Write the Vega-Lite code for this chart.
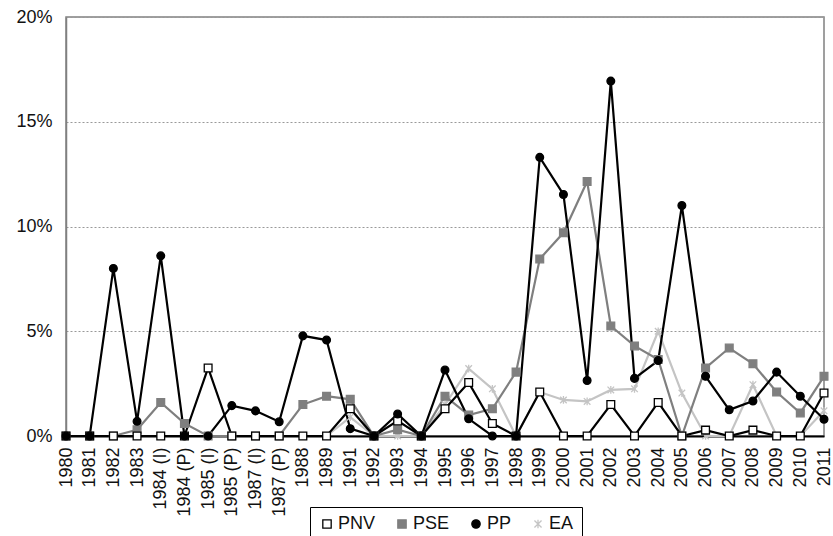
{
  "$schema": "https://vega.github.io/schema/vega-lite/v6.json",
  "width": 758,
  "height": 419,
  "autosize": {"type": "none"},
  "padding": {"left": 66, "top": 17, "right": 9, "bottom": 100},
  "background": "white",
  "config": {
    "font": "Liberation Sans",
    "view": {"stroke": "#808080", "strokeWidth": 1.5},
    "axis": {"labelColor": "#111", "labelFont": "Liberation Sans"}
  },
  "datasets": {
    "d": [
      {"cat": "1980", "EA": 0, "PSE": 0, "PNV": 0, "PP": 0},
      {"cat": "1981", "EA": 0, "PSE": 0, "PNV": 0, "PP": 0},
      {"cat": "1982", "EA": 0, "PSE": 0, "PNV": 0, "PP": 8.0},
      {"cat": "1983", "EA": 0, "PSE": 0.3, "PNV": 0, "PP": 0.7},
      {"cat": "1984 (I)", "EA": 0, "PSE": 1.6, "PNV": 0, "PP": 8.6},
      {"cat": "1984 (P)", "EA": 0, "PSE": 0.6, "PNV": 0, "PP": 0},
      {"cat": "1985 (I)", "EA": 0, "PSE": 0, "PNV": 3.25, "PP": 0},
      {"cat": "1985 (P)", "EA": 0, "PSE": 0, "PNV": 0, "PP": 1.45},
      {"cat": "1987 (I)", "EA": 0, "PSE": 0, "PNV": 0, "PP": 1.2},
      {"cat": "1987 (P)", "EA": 0, "PSE": 0, "PNV": 0, "PP": 0.68},
      {"cat": "1988", "EA": 0, "PSE": 1.5, "PNV": 0, "PP": 4.78},
      {"cat": "1989", "EA": 0, "PSE": 1.9, "PNV": 0, "PP": 4.58},
      {"cat": "1991", "EA": 0.9, "PSE": 1.75, "PNV": 1.3, "PP": 0.35},
      {"cat": "1992", "EA": 0, "PSE": 0, "PNV": 0, "PP": 0},
      {"cat": "1993", "EA": 0, "PSE": 0.3, "PNV": 0.72, "PP": 1.05},
      {"cat": "1994", "EA": 0, "PSE": 0, "PNV": 0, "PP": 0},
      {"cat": "1995", "EA": 1.5, "PSE": 1.9, "PNV": 1.3, "PP": 3.15},
      {"cat": "1996", "EA": 3.22, "PSE": 1.0, "PNV": 2.55, "PP": 0.82},
      {"cat": "1997", "EA": 2.25, "PSE": 1.3, "PNV": 0.6, "PP": 0},
      {"cat": "1998", "EA": 0, "PSE": 3.05, "PNV": 0, "PP": 0},
      {"cat": "1999", "EA": 2.1, "PSE": 8.45, "PNV": 2.1, "PP": 13.3},
      {"cat": "2000", "EA": 1.72, "PSE": 9.7, "PNV": 0, "PP": 11.53},
      {"cat": "2001", "EA": 1.65, "PSE": 12.15, "PNV": 0, "PP": 2.65},
      {"cat": "2002", "EA": 2.2, "PSE": 5.25, "PNV": 1.5, "PP": 16.94},
      {"cat": "2003", "EA": 2.25, "PSE": 4.3, "PNV": 0, "PP": 2.75},
      {"cat": "2004", "EA": 5.0, "PSE": 3.65, "PNV": 1.6, "PP": 3.6},
      {"cat": "2005", "EA": 2.05, "PSE": 0, "PNV": 0, "PP": 11.0},
      {"cat": "2006", "EA": 0, "PSE": 3.25, "PNV": 0.28, "PP": 2.85},
      {"cat": "2007", "EA": 0, "PSE": 4.2, "PNV": 0, "PP": 1.25},
      {"cat": "2008", "EA": 2.45, "PSE": 3.45, "PNV": 0.28, "PP": 1.67},
      {"cat": "2009", "EA": 0, "PSE": 2.1, "PNV": 0, "PP": 3.05},
      {"cat": "2010", "EA": 0, "PSE": 1.1, "PNV": 0, "PP": 1.9},
      {"cat": "2011", "EA": 1.2, "PSE": 2.85, "PNV": 2.05, "PP": 0.8}
    ]
  },
  "data": {"name": "d"},
  "transform": [
    {"fold": ["EA", "PSE", "PNV", "PP"], "as": ["party", "value"]}
  ],
  "encoding": {
    "x": {
      "field": "cat",
      "type": "ordinal",
      "sort": ["1980","1981","1982","1983","1984 (I)","1984 (P)","1985 (I)","1985 (P)","1987 (I)","1987 (P)","1988","1989","1991","1992","1993","1994","1995","1996","1997","1998","1999","2000","2001","2002","2003","2004","2005","2006","2007","2008","2009","2010","2011"],
      "scale": {"type": "point", "padding": 0},
      "axis": {
        "title": null,
        "labelAngle": 270,
        "labelAlign": "right",
        "labelBaseline": "middle",
        "labelFontSize": 18,
        "labelPadding": 11,
        "labelOverlap": false,
        "ticks": false,
        "domainColor": "#000",
        "domainWidth": 2,
        "grid": false
      }
    },
    "y": {
      "field": "value",
      "type": "quantitative",
      "scale": {"domain": [0, 20], "nice": false},
      "axis": {
        "title": null,
        "values": [0, 5, 10, 15, 20],
        "labelExpr": "datum.value + '%'",
        "labelFontSize": 18,
        "labelPadding": 14,
        "ticks": false,
        "domainColor": "#808080",
        "domainWidth": 1.5,
        "grid": true,
        "gridColor": "#999",
        "gridDash": [2, 2],
        "gridWidth": 1
      }
    }
  },
  "layer": [
    {
      "mark": {"type": "line", "strokeWidth": 2.2},
      "encoding": {
        "stroke": {
          "field": "party",
          "type": "nominal",
          "scale": {"domain": ["PNV", "PSE", "PP", "EA"], "range": ["#000000", "#7f7f7f", "#000000", "#c4c4c4"]},
          "legend": {
            "title": null,
            "orient": "none",
            "legendX": 244,
            "legendY": 490,
            "direction": "horizontal",
            "labelFontSize": 18,
            "labelColor": "#111",
            "labelOffset": 2,
            "columnPadding": 17,
            "symbolSize": 70,
            "symbolStrokeWidth": 1.3,
            "strokeColor": "#000",
            "padding": 8
          }
        }
      }
    },
    {
      "mark": {"type": "point", "filled": false, "size": 60, "strokeWidth": 1.3, "opacity": 1},
      "encoding": {
        "shape": {
          "field": "party",
          "type": "nominal",
          "scale": {"domain": ["PNV", "PSE", "PP", "EA"], "range": ["square", "square", "circle", "M0,-1L0,1M-0.85,-0.85L0.85,0.85M-0.85,0.85L0.85,-0.85"]},
          "legend": {"title": null}
        },
        "fill": {
          "field": "party",
          "type": "nominal",
          "scale": {"domain": ["PNV", "PSE", "PP", "EA"], "range": ["#ffffff", "#7f7f7f", "#000000", "#c4c4c4"]},
          "legend": {"title": null}
        },
        "stroke": {
          "field": "party",
          "type": "nominal"
        }
      }
    }
  ]
}
